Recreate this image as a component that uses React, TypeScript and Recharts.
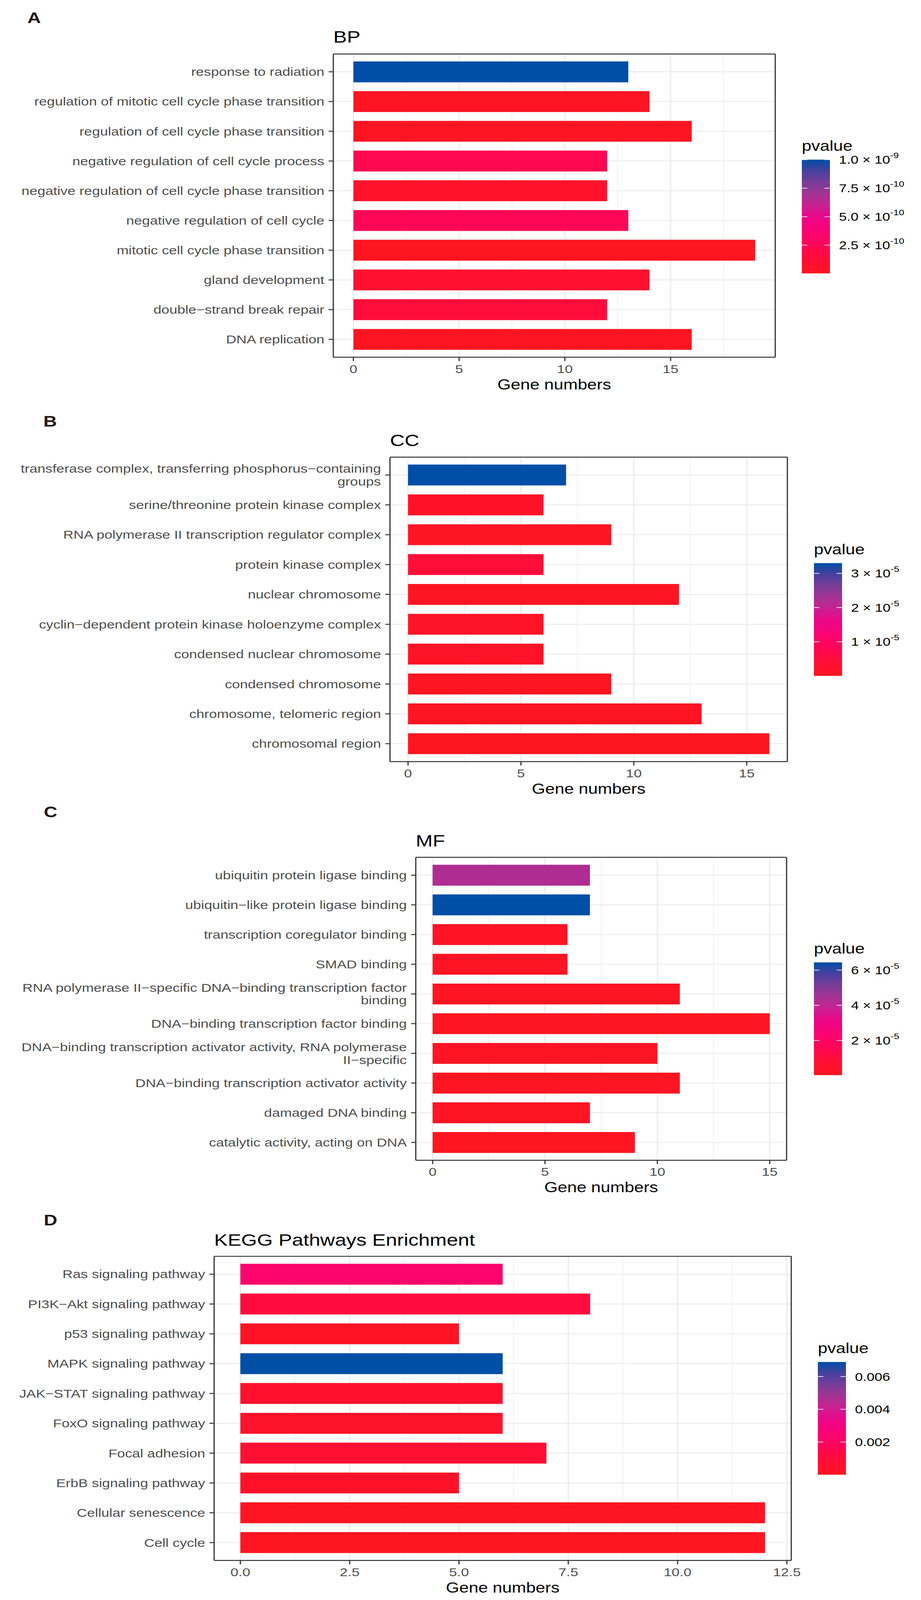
import React from "react";
import { BarChart, Bar, Cell, XAxis, YAxis, CartesianGrid } from "recharts";

const FONT = '"Liberation Sans", Arial, Helvetica, sans-serif';
const PAGE_W = 2357;
const PAGE_H = 4981;

// ---- BP ----
const bpTerms = [
  "response to radiation",
  "regulation of mitotic cell cycle phase transition",
  "regulation of cell cycle phase transition",
  "negative regulation of cell cycle process",
  "negative regulation of cell cycle phase transition",
  "negative regulation of cell cycle",
  "mitotic cell cycle phase transition",
  "gland development",
  "double\u2212strand break repair",
  "DNA replication",
];
const bpCounts = [13, 14, 16, 12, 12, 13, 19, 14, 12, 16];
const bpPvalues = [1.0e-9, 1.2e-11, 1.6e-11, 2.3e-10, 5.5e-11, 2.5e-10, 3e-12, 8e-11, 1.4e-10, 6e-12];
const bpTicks = [0, 5, 10, 15];
const bpMinorTicks = [2.5, 7.5, 12.5, 17.5];
const bpLegendTicks = [2.5e-10, 5e-10, 7.5e-10, 1e-9];
const bpLegendMantissas = ["2.5", "5.0", "7.5", "1.0"];
const bpLegendExps = ["-10", "-10", "-10", "-9"];

// ---- CC ----
const ccTerms = [
  "transferase complex, transferring phosphorus\u2212containing\ngroups",
  "serine/threonine protein kinase complex",
  "RNA polymerase II transcription regulator complex",
  "protein kinase complex",
  "nuclear chromosome",
  "cyclin\u2212dependent protein kinase holoenzyme complex",
  "condensed nuclear chromosome",
  "condensed chromosome",
  "chromosome, telomeric region",
  "chromosomal region",
];
const ccCounts = [7, 6, 9, 6, 12, 6, 6, 9, 13, 16];
const ccPvalues = [3.3e-5, 1.5e-6, 5e-7, 4e-6, 2e-7, 1.2e-6, 1e-6, 3e-7, 4e-7, 1e-8];
const ccTicks = [0, 5, 10, 15];
const ccMinorTicks = [2.5, 7.5, 12.5];
const ccLegendTicks = [1e-5, 2e-5, 3e-5];
const ccLegendMantissas = ["1", "2", "3"];
const ccLegendExps = ["-5", "-5", "-5"];

// ---- MF ----
const mfTerms = [
  "ubiquitin protein ligase binding",
  "ubiquitin\u2212like protein ligase binding",
  "transcription coregulator binding",
  "SMAD binding",
  "RNA polymerase II\u2212specific DNA\u2212binding transcription factor\nbinding",
  "DNA\u2212binding transcription factor binding",
  "DNA\u2212binding transcription activator activity, RNA polymerase\nII\u2212specific",
  "DNA\u2212binding transcription activator activity",
  "damaged DNA binding",
  "catalytic activity, acting on DNA",
];
const mfCounts = [7, 7, 6, 6, 11, 15, 10, 11, 7, 9];
const mfPvalues = [4.3e-5, 6.44e-5, 2e-6, 1.5e-6, 1e-6, 8e-7, 1.2e-6, 6e-7, 1.5e-6, 3e-7];
const mfTicks = [0, 5, 10, 15];
const mfMinorTicks = [2.5, 7.5, 12.5];
const mfLegendTicks = [2e-5, 4e-5, 6e-5];
const mfLegendMantissas = ["2", "4", "6"];
const mfLegendExps = ["-5", "-5", "-5"];

// ---- KEGG ----
const keggTerms = [
  "Ras signaling pathway",
  "PI3K\u2212Akt signaling pathway",
  "p53 signaling pathway",
  "MAPK signaling pathway",
  "JAK\u2212STAT signaling pathway",
  "FoxO signaling pathway",
  "Focal adhesion",
  "ErbB signaling pathway",
  "Cellular senescence",
  "Cell cycle",
];
const keggCounts = [6, 8, 5, 6, 6, 6, 7, 5, 12, 12];
const keggPvalues = [0.0023, 0.0011, 0.0002, 0.00689, 0.0005, 0.0004, 0.0007, 0.0003, 0.00005, 0.000001];
const keggTicks = [0, 2.5, 5, 7.5, 10, 12.5];
const keggMinorTicks = [1.25, 3.75, 6.25, 8.75, 11.25];
const keggLegendTicks = [0.002, 0.004, 0.006];
const keggLegendLabels = ["0.002", "0.004", "0.006"];

// low p (red) -> high p (blue)
const gradientStops: [number, string][] = [
  [0.0, "#ff1520"],
  [0.15, "#ff0c3c"],
  [0.25, "#ff0657"],
  [0.4, "#f7037a"],
  [0.5, "#e8088a"],
  [0.6, "#c72290"],
  [0.7, "#a23393"],
  [0.8, "#773d98"],
  [0.9, "#47409e"],
  [1.0, "#004fa6"],
];

const hexToRgb = (h: string) => [1, 3, 5].map((i) => parseInt(h.slice(i, i + 2), 16));

function colorFor(t: number) {
  const c = Math.max(0, Math.min(1, t));
  for (let i = 1; i < gradientStops.length; i++) {
    const [t1, col1] = gradientStops[i];
    const [t0, col0] = gradientStops[i - 1];
    if (c <= t1) {
      const f = (c - t0) / (t1 - t0);
      const a = hexToRgb(col0);
      const b = hexToRgb(col1);
      const m = a.map((v, k) => Math.round(v + (b[k] - v) * f));
      return `rgb(${m[0]},${m[1]},${m[2]})`;
    }
  }
  return gradientStops[gradientStops.length - 1][1];
}

const border = { stroke: "#333333", strokeWidth: 3 };
const AXIS_FONT = 36.5;

const CategoryTick = (props: any) => {
  const { x, y, payload } = props;
  const lines = String(payload.value).split("\n");
  const lh = 40;
  return (
    <text x={x} y={y} textAnchor="end" fill="#4d4d4d" fontSize={AXIS_FONT} fontFamily={FONT}>
      {lines.map((line, i) => (
        <tspan key={i} x={x} dy={i === 0 ? (-(lines.length - 1) * lh) / 2 + 12.8 : lh}>
          {line}
        </tspan>
      ))}
    </text>
  );
};

type PanelProps = {
  terms: string[];
  counts: number[];
  pvalues: number[];
  domain: [number, number];
  ticks: number[];
  minorTicks: number[];
  tickFormat?: (v: number) => string;
  top: number;
  height: number;
  plotLeft: number;
  plotRight: number;
  plotTop: number;
  plotBottom: number;
};

const Panel = (p: PanelProps) => {
  const data = p.terms.map((term, i) => ({ term, count: p.counts[i], pvalue: p.pvalues[i] }));
  const pMin = Math.min(...p.pvalues);
  const pMax = Math.max(...p.pvalues);
  const axisH = 100;
  const margin = {
    top: p.plotTop - p.top - 1,
    right: PAGE_W - p.plotRight - 1,
    bottom: p.top + p.height - p.plotBottom - axisH,
    left: 0,
  };
  const pad = (p.plotBottom - p.plotTop) / 102;
  // horizontal grid lines through the middle of each category band
  const rowLines = (props: any) => {
    try {
      const s = props?.yAxis?.scale;
      if (s && typeof s.bandwidth === "function") {
        const bw = s.bandwidth();
        if (typeof s === "function") return data.map((d) => s(d.term) + bw / 2);
        if (typeof s.map === "function") {
          const v = data.map((d) => s.map(d.term));
          if (v.every((x: any) => typeof x === "number" && isFinite(x))) return v.map((x: number) => x + bw / 2);
        }
        if (typeof s.range === "function") {
          const r = s.range();
          const lo = Math.min(r[0], r[1]);
          return data.map((_, i) => lo + i * bw + bw / 2);
        }
      }
    } catch (e) {
      // fall through
    }
    const off = props?.offset;
    if (!off) return [];
    const bw = (off.height - 2 * pad) / data.length;
    return data.map((_, i) => off.top + pad + (i + 0.5) * bw);
  };
  return (
    <div style={{ position: "absolute", left: 0, top: p.top }}>
      <BarChart
        layout="vertical"
        width={PAGE_W}
        height={p.height}
        data={data}
        margin={margin}
        barCategoryGap="15%"
      >
        <CartesianGrid xAxisId="minor" horizontal={false} stroke="#ebebeb" strokeWidth={1.5} />
        <CartesianGrid stroke="#ebebeb" strokeWidth={3} horizontalCoordinatesGenerator={rowLines} />
        <XAxis
          type="number"
          dataKey="count"
          domain={p.domain}
          ticks={p.ticks}
          allowDataOverflow
          tickFormatter={p.tickFormat}
          tickSize={12}
          tickMargin={11}
          tickLine={border}
          axisLine={border}
          tick={{ fill: "#4d4d4d", fontSize: AXIS_FONT }}
          height={axisH}
          label={{ value: "Gene numbers", position: "insideBottom", offset: 0, fill: "#000000", fontSize: 44 }}
        />
        <XAxis xAxisId="minor" type="number" domain={p.domain} ticks={p.minorTicks} allowDataOverflow hide />
        <XAxis
          xAxisId="top"
          orientation="top"
          type="number"
          domain={p.domain}
          allowDataOverflow
          height={1}
          tick={false}
          tickLine={false}
          axisLine={border}
        />
        <YAxis
          type="category"
          dataKey="term"
          width={p.plotLeft}
          padding={{ top: pad, bottom: pad }}
          interval={0}
          tickSize={12}
          tickMargin={11}
          tickLine={border}
          axisLine={border}
          tick={<CategoryTick />}
        />
        <YAxis
          yAxisId="right"
          orientation="right"
          type="number"
          domain={[0, 1]}
          width={1}
          tick={false}
          tickLine={false}
          axisLine={border}
        />
        <Bar dataKey="count" isAnimationActive={false}>
          {data.map((d, i) => (
            <Cell key={i} fill={colorFor((d.pvalue - pMin) / (pMax - pMin))} />
          ))}
        </Bar>
      </BarChart>
    </div>
  );
};

type LegendProps = {
  id: string;
  x: number;
  top: number;
  height: number;
  pvalues: number[];
  ticks: number[];
  mantissas: string[];
  exps?: string[];
};

const ColorLegend = (l: LegendProps) => {
  const min = Math.min(...l.pvalues);
  const max = Math.max(...l.pvalues);
  const w = 72;
  const yOf = (v: number) => l.top + ((max - v) / (max - min)) * l.height;
  const stops = Array.from({ length: 21 }, (_, i) => i / 20);
  return (
    <g>
      <defs>
        <linearGradient id={l.id} x1="0" y1="0" x2="0" y2="1">
          {stops.map((s) => (
            <stop key={s} offset={s} stopColor={colorFor(1 - s)} />
          ))}
        </linearGradient>
      </defs>
      <text x={l.x} y={l.top - 28} fontSize={44} fill="#000">
        pvalue
      </text>
      <rect x={l.x} y={l.top} width={w} height={l.height} fill={`url(#${l.id})`} />
      {l.ticks.map((v, i) => {
        const y = yOf(v);
        return (
          <g key={i}>
            <line x1={l.x} x2={l.x + 14} y1={y} y2={y} stroke="#ffffff" strokeWidth={2} />
            <line x1={l.x + w - 14} x2={l.x + w} y1={y} y2={y} stroke="#ffffff" strokeWidth={2} />
            <text x={l.x + w + 23} y={y + 13} fontSize={36} fill="#000">
              {l.mantissas[i]}
              {l.exps ? (
                <>
                  {" \u00d7 10"}
                  <tspan dy={-17} fontSize={25}>
                    {l.exps[i]}
                  </tspan>
                </>
              ) : null}
            </text>
          </g>
        );
      })}
    </g>
  );
};

export default function App() {
  // the photographed viewport can be shorter than the figure: fit it vertically
  const vh = typeof window !== "undefined" && window.innerHeight ? window.innerHeight : PAGE_H;
  const sy = Math.min(1, vh / PAGE_H);
  return (
    <div style={{ width: PAGE_W, height: PAGE_H * sy, overflow: "hidden", background: "#ffffff" }}>
      <style>{"body{margin:0;background:#fff}"}</style>
      <div
        style={{
          position: "relative",
          width: PAGE_W,
          height: PAGE_H,
          background: "#ffffff",
          fontFamily: FONT,
          transform: `scale(1, ${sy})`,
          transformOrigin: "0 0",
        }}
      >
        <Panel
          terms={bpTerms}
          counts={bpCounts}
          pvalues={bpPvalues}
          domain={[-0.95, 19.95]}
          ticks={bpTicks}
          minorTicks={bpMinorTicks}
          top={0}
          height={1245}
          plotLeft={853}
          plotRight={1984}
          plotTop={168}
          plotBottom={1112}
        />
        <Panel
          terms={ccTerms}
          counts={ccCounts}
          pvalues={ccPvalues}
          domain={[-0.8, 16.8]}
          ticks={ccTicks}
          minorTicks={ccMinorTicks}
          top={1245}
          height={1245}
          plotLeft={998}
          plotRight={2015}
          plotTop={1423}
          plotBottom={2371}
        />
        <Panel
          terms={mfTerms}
          counts={mfCounts}
          pvalues={mfPvalues}
          domain={[-0.75, 15.75]}
          ticks={mfTicks}
          minorTicks={mfMinorTicks}
          top={2490}
          height={1245}
          plotLeft={1064}
          plotRight={2013}
          plotTop={2669}
          plotBottom={3612}
        />
        <Panel
          terms={keggTerms}
          counts={keggCounts}
          pvalues={keggPvalues}
          domain={[-0.6, 12.6]}
          ticks={keggTicks}
          minorTicks={keggMinorTicks}
          tickFormat={(v) => v.toFixed(1)}
          top={3735}
          height={1246}
          plotLeft={548}
          plotRight={2025}
          plotTop={3911}
          plotBottom={4858}
        />
        <svg
          width={PAGE_W}
          height={PAGE_H}
          style={{ position: "absolute", left: 0, top: 0, pointerEvents: "none" }}
          fontFamily={FONT}
        >
          <g fontSize={48} fontWeight="bold" fill="#231815">
            <text x={70} y={72}>A</text>
            <text x={111} y={1328}>B</text>
            <text x={112} y={2544}>C</text>
            <text x={112} y={3815}>D</text>
          </g>
          <g fontSize={52} fill="#000">
            <text x={853} y={132}>BP</text>
            <text x={998} y={1389}>CC</text>
            <text x={1064} y={2635}>MF</text>
            <text x={548} y={3878}>KEGG Pathways Enrichment</text>
          </g>
          <ColorLegend
            id="gBP"
            x={2052}
            top={497}
            height={354}
            pvalues={bpPvalues}
            ticks={bpLegendTicks}
            mantissas={bpLegendMantissas}
            exps={bpLegendExps}
          />
          <ColorLegend
            id="gCC"
            x={2083}
            top={1753}
            height={351}
            pvalues={ccPvalues}
            ticks={ccLegendTicks}
            mantissas={ccLegendMantissas}
            exps={ccLegendExps}
          />
          <ColorLegend
            id="gMF"
            x={2083}
            top={2996}
            height={351}
            pvalues={mfPvalues}
            ticks={mfLegendTicks}
            mantissas={mfLegendMantissas}
            exps={mfLegendExps}
          />
          <ColorLegend
            id="gKEGG"
            x={2093}
            top={4240}
            height={351}
            pvalues={keggPvalues}
            ticks={keggLegendTicks}
            mantissas={keggLegendLabels}
          />
        </svg>
      </div>
    </div>
  );
}
